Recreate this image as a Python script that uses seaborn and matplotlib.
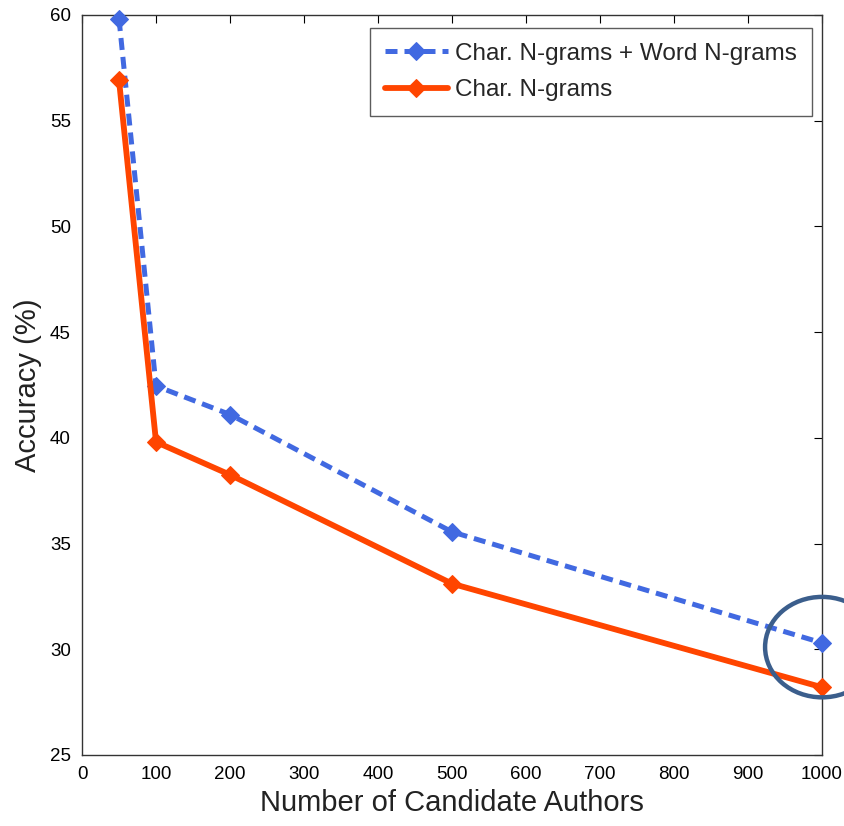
import matplotlib
matplotlib.use("Agg")
import matplotlib.pyplot as plt
import numpy as np
import pandas as pd
import seaborn as sns
from matplotlib.patches import Ellipse

# Data
authors = [50, 100, 200, 500, 1000]
char_word_acc = [59.8, 42.45, 41.1, 35.55, 30.3]
char_acc = [56.9, 39.8, 38.25, 33.1, 28.2]
series_labels = ["Char. N-grams + Word N-grams", "Char. N-grams"]

x_ticks = list(range(0, 1001, 100))
y_ticks = list(range(25, 61, 5))

df = pd.DataFrame({
    "authors": authors * 2,
    "accuracy": char_word_acc + char_acc,
    "series": [series_labels[0]] * len(authors) + [series_labels[1]] * len(authors),
})

sns.set_style("white")
plt.rcParams["font.family"] = ["Liberation Sans", "DejaVu Sans"]

fig = plt.figure(figsize=(8.44, 8.26), dpi=100)
ax = fig.add_axes([0.0972, 0.086, 0.8768, 0.896])

styles = {
    series_labels[0]: dict(color="#4169E1", linestyle=(0, (2.4, 1.4)), linewidth=3.6),
    series_labels[1]: dict(color="#FF4500", linestyle="-", linewidth=4.2),
}
for name in series_labels:
    sub = df[df["series"] == name]
    st = styles[name]
    sns.lineplot(data=sub, x="authors", y="accuracy", ax=ax, label=name,
                 color=st["color"], linestyle=st["linestyle"], linewidth=st["linewidth"],
                 marker="D", markersize=9, markerfacecolor=st["color"],
                 markeredgecolor=st["color"], clip_on=False, zorder=3)

ax.set_xlim(0, 1000)
ax.set_ylim(25, 60)
ax.set_xticks(x_ticks)
ax.set_yticks(y_ticks)
ax.tick_params(direction="in", length=6, width=0.8, top=True, right=True,
               labelsize=13.5, colors="black", pad=8)
for s in ax.spines.values():
    s.set_color("#333333")
    s.set_linewidth(1.0)

ax.set_xlabel("Number of Candidate Authors", fontsize=21, color="#222222", labelpad=4)
ax.set_ylabel("Accuracy (%)", fontsize=21, color="#222222", labelpad=6)

# circled highlight around the 1000-author points
ell = Ellipse((1000, 30.1), width=154, height=4.75, fill=False,
              edgecolor="#3B5E8C", linewidth=3.2, clip_on=False, zorder=4)
ax.add_patch(ell)

leg = ax.legend(loc="upper right", fontsize=17.5, frameon=True, fancybox=False,
                edgecolor="#333333", handlelength=2.6, handletextpad=0.3,
                borderpad=0.6, labelspacing=0.6, borderaxespad=0,
                bbox_to_anchor=(0.986, 0.982))
leg.get_frame().set_linewidth(1.0)

fig.savefig("out.png", dpi=100)
